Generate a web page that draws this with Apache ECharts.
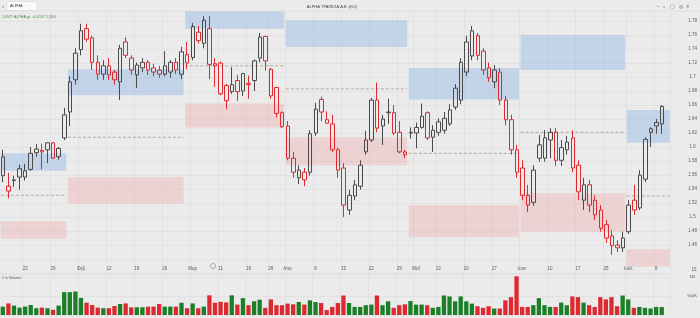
<!DOCTYPE html>
<html><head><meta charset="utf-8">
<script src="https://cdn.jsdelivr.net/npm/echarts@6/dist/echarts.min.js"></script>
<style>html,body{margin:0;padding:0;background:#ebebeb}#c{width:700px;height:318px}</style>
</head><body><div id="c"></div>
<script>
// ---- data ----
const dates = [
'2024-01-16','2024-01-17','2024-01-18','2024-01-19','2024-01-22','2024-01-23','2024-01-24','2024-01-25','2024-01-26','2024-01-29','2024-01-30','2024-01-31',
'2024-02-01','2024-02-02','2024-02-05','2024-02-06','2024-02-07','2024-02-08','2024-02-09','2024-02-12','2024-02-13','2024-02-14','2024-02-15','2024-02-16','2024-02-19','2024-02-20','2024-02-21','2024-02-22','2024-02-23','2024-02-26','2024-02-27','2024-02-28','2024-02-29',
'2024-03-01','2024-03-04','2024-03-05','2024-03-06','2024-03-07','2024-03-08','2024-03-11','2024-03-12','2024-03-13','2024-03-14','2024-03-15','2024-03-19','2024-03-20','2024-03-21','2024-03-22','2024-03-26','2024-03-27','2024-03-28',
'2024-04-01','2024-04-02','2024-04-03','2024-04-04','2024-04-05','2024-04-08','2024-04-09','2024-04-10','2024-04-11','2024-04-12','2024-04-15','2024-04-16','2024-04-17','2024-04-18','2024-04-19','2024-04-22','2024-04-23','2024-04-24','2024-04-25','2024-04-26','2024-04-29','2024-04-30',
'2024-05-02','2024-05-07','2024-05-08','2024-05-09','2024-05-10','2024-05-13','2024-05-14','2024-05-15','2024-05-16','2024-05-17','2024-05-20','2024-05-21','2024-05-22','2024-05-23','2024-05-24','2024-05-27','2024-05-28','2024-05-29','2024-05-30','2024-05-31',
'2024-06-03','2024-06-04','2024-06-05','2024-06-06','2024-06-07','2024-06-10','2024-06-11','2024-06-12','2024-06-13','2024-06-14','2024-06-17','2024-06-18','2024-06-19','2024-06-20','2024-06-21','2024-06-25','2024-06-26','2024-06-27','2024-06-28',
'2024-07-01','2024-07-02','2024-07-03','2024-07-04','2024-07-05','2024-07-08','2024-07-09','2024-07-10'];

const opens = [1.586,1.537,1.552,1.569,1.557,1.568,1.592,1.595,1.596,1.606,1.586,1.613,
1.650,1.696,1.739,1.769,1.756,1.721,1.704,1.716,1.707,1.693,1.750,1.727,1.703,1.713,1.721,1.713,1.710,1.704,1.707,1.721,1.704,
1.732,1.728,1.764,1.748,1.769,1.719,1.720,1.688,1.679,1.695,1.680,1.691,1.695,1.727,1.758,1.711,1.685,1.649,
1.630,1.584,1.556,1.564,1.564,1.620,1.668,1.639,1.633,1.596,1.570,1.510,1.530,1.544,1.593,1.610,1.667,1.640,1.650,1.649,1.621,1.593,
1.620,1.620,1.628,1.649,1.614,1.621,1.624,1.633,1.684,1.667,1.707,1.730,1.759,1.737,1.713,1.693,1.707,1.667,1.639,1.596,
1.570,1.531,1.521,1.603,1.584,1.610,1.621,1.581,1.596,1.613,1.574,1.524,1.546,1.524,1.510,1.489,1.473,1.460,1.456,
1.479,1.524,1.513,1.554,1.621,1.630,1.633];
const closes = [1.559,1.544,1.553,1.557,1.566,1.591,1.597,1.593,1.606,1.584,1.598,1.646,
1.693,1.734,1.766,1.754,1.721,1.704,1.716,1.703,1.696,1.741,1.731,1.710,1.717,1.721,1.710,1.707,1.704,1.716,1.721,1.710,1.736,
1.720,1.772,1.752,1.781,1.718,1.716,1.676,1.666,1.689,1.679,1.705,1.689,1.723,1.757,1.723,1.673,1.648,1.629,
1.584,1.564,1.567,1.553,1.619,1.654,1.650,1.634,1.596,1.567,1.517,1.531,1.546,1.574,1.610,1.667,1.627,1.630,1.649,1.620,1.593,1.589,
1.621,1.628,1.644,1.613,1.624,1.636,1.641,1.653,1.657,1.721,1.750,1.766,1.731,1.710,1.699,1.710,1.667,1.639,1.596,1.564,
1.531,1.517,1.567,1.584,1.613,1.621,1.581,1.599,1.607,1.570,1.536,1.546,1.517,1.503,1.484,1.470,1.459,1.456,1.470,
1.517,1.510,1.560,1.611,1.626,1.635,1.658];
const highs = [1.596,1.563,1.559,1.575,1.576,1.600,1.604,1.605,1.607,1.607,1.600,1.656,
1.701,1.741,1.776,1.776,1.759,1.731,1.724,1.727,1.710,1.746,1.757,1.731,1.721,1.727,1.724,1.719,1.716,1.737,1.724,1.727,1.743,
1.750,1.777,1.773,1.787,1.787,1.727,1.722,1.690,1.714,1.703,1.706,1.702,1.725,1.763,1.759,1.713,1.686,1.651,
1.637,1.593,1.574,1.570,1.624,1.663,1.672,1.651,1.646,1.599,1.577,1.539,1.553,1.581,1.623,1.670,1.692,1.646,1.669,1.660,1.637,1.596,
1.628,1.635,1.662,1.651,1.631,1.641,1.650,1.661,1.690,1.727,1.759,1.773,1.763,1.741,1.721,1.717,1.713,1.673,1.646,1.603,
1.581,1.546,1.574,1.617,1.624,1.627,1.627,1.610,1.616,1.624,1.581,1.556,1.553,1.531,1.517,1.496,1.481,1.467,1.479,
1.524,1.546,1.567,1.614,1.628,1.640,1.660];
const lows = [1.550,1.527,1.543,1.539,1.552,1.566,1.586,1.568,1.577,1.583,1.582,1.610,
1.630,1.689,1.731,1.750,1.710,1.696,1.696,1.696,1.689,1.667,1.727,1.703,1.684,1.707,1.703,1.701,1.699,1.701,1.699,1.704,1.697,
1.711,1.724,1.748,1.741,1.697,1.686,1.674,1.654,1.676,1.666,1.673,1.669,1.680,1.721,1.709,1.669,1.642,1.627,
1.581,1.556,1.547,1.544,1.559,1.616,1.637,1.633,1.593,1.556,1.500,1.503,1.524,1.539,1.589,1.607,1.621,1.603,1.633,1.617,1.591,1.584,
1.612,1.598,1.626,1.610,1.593,1.616,1.619,1.630,1.653,1.661,1.701,1.724,1.724,1.703,1.693,1.684,1.660,1.631,1.589,1.556,
1.524,1.507,1.516,1.579,1.579,1.584,1.573,1.573,1.589,1.564,1.524,1.510,1.507,1.496,1.479,1.463,1.446,1.450,1.450,
1.476,1.503,1.510,1.550,1.600,1.619,1.619];
const prevCloseBeforeStart = 1.55;

// volume in thousands of shares
const volumes = [221,305,247,195,221,263,179,195,179,137,247,602,
602,618,450,323,263,195,179,179,237,289,305,203,203,203,221,221,289,221,221,221,323,
179,305,179,221,518,323,347,331,518,274,444,258,360,402,189,410,258,258,
300,281,342,274,387,342,316,129,213,316,513,316,213,213,258,274,513,258,360,189,258,281,
368,274,274,258,189,213,513,489,360,489,360,300,231,189,231,171,171,387,471,1020,
213,213,258,444,258,213,213,326,258,489,471,326,258,213,471,410,471,231,513,
410,189,213,189,171,213,210];

// monthly zones: first / last bar, resistance zone, support zone, pivot
const zoneStart = ['2024-01-16','2024-02-01','2024-03-01','2024-04-01','2024-05-02','2024-06-03','2024-07-01'];
const zoneEnd   = ['2024-01-31','2024-02-29','2024-03-28','2024-04-30','2024-05-31','2024-06-28','2024-07-10'];
const resTop    = [1.591,1.711,1.794,1.781,1.713,1.760,1.653];
const resBottom = [1.566,1.674,1.769,1.743,1.668,1.710,1.606];
const supTop    = [1.494,1.557,1.662,1.614,1.517,1.534,1.454];
const supBottom = [1.469,1.519,1.628,1.574,1.471,1.479,1.429];
const pivots    = [1.531,1.614,1.716,1.683,1.591,1.621,1.530];

// time-axis tick labels
const dateTicks = {'2024-01-22':'22','2024-01-29':'29','2024-02-05':'Φεβ','2024-02-12':'12','2024-02-19':'19','2024-02-26':'26',
'2024-03-04':'Μαρ','2024-03-11':'11','2024-03-19':'19','2024-03-26':'26','2024-04-01':'Απρ','2024-04-08':'8','2024-04-15':'15',
'2024-04-22':'22','2024-04-29':'29','2024-05-07':'Μαΐ','2024-05-13':'13','2024-05-20':'20','2024-05-27':'27','2024-06-03':'Ιουν',
'2024-06-10':'10','2024-06-17':'17','2024-06-25':'25','2024-07-01':'Ιουλ','2024-07-08':'8'};
const priceMin = 1.42, priceMax = 1.80, priceStep = 0.02;
const volMax = 1080, volStep = 500;

// ---- styles ----
const BG = '#ebebeb', RED = '#dc2a30', DARK = '#4a4a4a', VGREEN = '#1b7f27', VRED = '#dc2a30';
const BLUE = 'rgba(125,172,230,0.36)', PINK = 'rgba(240,158,158,0.32)';
const GRIDC = '#dfdfdf', TXT = '#5a5a5a', FONT = 'Liberation Sans';

const candleData = opens.map((o, i) => {
  const c = closes[i];
  const prev = i ? closes[i - 1] : prevCloseBeforeStart;
  const col = c < prev ? RED : DARK;
  return {value: [o, c, lows[i], highs[i]],
    itemStyle: {color: 'rgba(0,0,0,0)', color0: col, borderColor: col, borderColor0: col}};
});
const volData = volumes.map((v, i) => {
  const prev = i ? closes[i - 1] : prevCloseBeforeStart;
  return {value: v, itemStyle: {color: closes[i] < prev ? VRED : VGREEN}};
});
const zoneData = zoneStart.map((s, k) => [dates.indexOf(s), dates.indexOf(zoneEnd[k]),
  resTop[k], resBottom[k], supTop[k], supBottom[k], pivots[k]]);

function renderZone(params, api) {
  const s = api.value(0), e = api.value(1);
  const bw = api.size([1, 0])[0];
  const xa = api.coord([s, api.value(2)])[0] - bw / 2 + 0.8;
  const xb = api.coord([e, api.value(2)])[0] + bw / 2 - 0.8;
  const y = v => api.coord([s, v])[1];
  return {type: 'group', children: [
    {type: 'rect', shape: {x: xa, y: y(api.value(2)), width: xb - xa, height: y(api.value(3)) - y(api.value(2))}, style: {fill: BLUE}},
    {type: 'rect', shape: {x: xa, y: y(api.value(4)), width: xb - xa, height: y(api.value(5)) - y(api.value(4))}, style: {fill: PINK}},
    {type: 'line', shape: {x1: xa, y1: y(api.value(6)), x2: xb, y2: y(api.value(6))}, style: {stroke: '#a09c88', lineWidth: 0.8, lineDash: [3, 2]}}
  ]};
}

const tickIdx = (i) => dateTicks[dates[i]] !== undefined;
const lastClose = closes[closes.length - 1];
const lastVol = volumes[volumes.length - 1];

const chart = echarts.init(document.getElementById('c'));
chart.setOption({
  animation: false,
  backgroundColor: BG,
  textStyle: {fontFamily: FONT},
  grid: [
    {left: 0, top: 7, width: 672, height: 266},
    {left: 0, top: 274, width: 672, height: 41}
  ],
  xAxis: [
    {type: 'category', data: dates, gridIndex: 0, boundaryGap: true,
     axisLine: {show: false}, axisTick: {show: false}, axisLabel: {show: false},
     splitLine: {show: true, interval: tickIdx, lineStyle: {color: GRIDC, width: 0.8}}},
    {type: 'category', data: dates, gridIndex: 1, boundaryGap: true, position: 'top',
     axisLine: {show: false}, axisTick: {show: false},
     axisLabel: {show: true, interval: tickIdx, formatter: v => dateTicks[v] || '', fontSize: 4.5, color: TXT, margin: 3},
     splitLine: {show: true, interval: tickIdx, lineStyle: {color: GRIDC, width: 0.8}}}
  ],
  yAxis: [
    {type: 'value', gridIndex: 0, position: 'right', min: priceMin, max: priceMax, interval: priceStep,
     axisLine: {show: false}, axisTick: {show: false},
     axisLabel: {fontSize: 4.5, color: TXT, margin: 22, align: 'center',
       formatter: v => (v > 1.455 && v < 1.785) ? String(+v.toFixed(2)) : ''},
     splitLine: {lineStyle: {color: GRIDC, width: 0.8}}},
    {type: 'value', gridIndex: 1, position: 'right', min: 0, max: volMax, interval: volStep,
     axisLine: {show: false}, axisTick: {show: false},
     axisLabel: {fontSize: 4.2, color: TXT, margin: 22, align: 'center',
       formatter: v => v === 500 ? '500K' : (v === 1000 ? '1M' : '')},
     splitLine: {lineStyle: {color: GRIDC, width: 0.8}}}
  ],
  series: [
    {type: 'custom', name: 'zones', xAxisIndex: 0, yAxisIndex: 0, data: zoneData,
     encode: {x: [0, 1], y: [2, 3, 4, 5, 6]}, renderItem: renderZone, z: 1, silent: true},
    {type: 'candlestick', name: 'ALPHA', xAxisIndex: 0, yAxisIndex: 0, data: candleData,
     barWidth: 4, z: 3,
     markLine: {symbol: 'none', silent: true, animation: false, data: [
       {yAxis: lastClose, lineStyle: {opacity: 0},
        label: {show: true, position: 'end', distance: 12, formatter: () => lastClose.toFixed(4),
          backgroundColor: '#3d9d4c', color: '#fff', fontSize: 4, padding: [1, 2], borderRadius: 1}},
       {yAxis: pivots[pivots.length - 1], lineStyle: {opacity: 0},
        label: {show: true, position: 'end', distance: 12, formatter: () => pivots[pivots.length - 1].toFixed(4),
          backgroundColor: '#c9a93c', color: '#fff', fontSize: 4, padding: [1, 2], borderRadius: 1}}
     ]}},
    {type: 'bar', name: 'Volume', xAxisIndex: 1, yAxisIndex: 1, data: volData, barWidth: 4.3,
     markLine: {symbol: 'none', silent: true, animation: false, data: [
       {yAxis: lastVol, lineStyle: {opacity: 0},
        label: {show: true, position: 'end', distance: 12, formatter: () => lastVol + 'K',
          backgroundColor: '#3d9d4c', color: '#fff', fontSize: 4, padding: [1, 2], borderRadius: 1}}]}}
  ],
  graphic: [
    {type: 'rect', z: 100, shape: {x: 0, y: 0, width: 700, height: 11}, style: {fill: BG}},
    {type: 'line', z: 100, shape: {x1: 0, y1: 11, x2: 700, y2: 11}, style: {stroke: '#d8d8d8', lineWidth: 0.6}},
    {type: 'text', z: 101, x: 2, y: 3, style: {text: '‹', fontSize: 6, fill: '#555'}},
    {type: 'rect', z: 101, shape: {x: 7, y: 1.5, width: 30, height: 9, r: 1}, style: {fill: '#fafafa', stroke: '#cfcfcf', lineWidth: 0.5}},
    {type: 'text', z: 102, x: 10, y: 4, style: {text: 'ALPHA', fontSize: 3.8, fill: '#333', fontFamily: FONT}},
    {type: 'text', z: 101, x: 332, y: 4.5, style: {text: 'ALPHA ΤΡΑΠΕΖΑ Α.Ε. (ΚΟ)', fontSize: 4, fill: '#444', align: 'center', fontFamily: FONT}},
    {type: 'text', z: 101, x: 657, y: 4, style: {text: '–   ⌕   ▢   ◎   ≡', fontSize: 4.5, fill: '#666', fontFamily: FONT}},
    {type: 'text', z: 101, x: 2, y: 15, style: {text: '1.6577 ALPHA gr  +0.0197 1.20%', fontSize: 3.6, fill: '#3f8a43', fontFamily: FONT}},
    {type: 'text', z: 101, x: 2, y: 276, style: {text: '1 in Volume', fontSize: 3.6, fill: '#555', fontFamily: FONT}},
    {type: 'text', z: 101, x: 694, y: 267, style: {text: '15', fontSize: 4.5, fill: TXT, align: 'center', fontFamily: FONT}},
    {type: 'circle', z: 101, shape: {cx: 213, cy: 266, r: 2.6}, style: {fill: 'none', stroke: '#777', lineWidth: 0.5}}
  ]
});
</script>
</body></html>
